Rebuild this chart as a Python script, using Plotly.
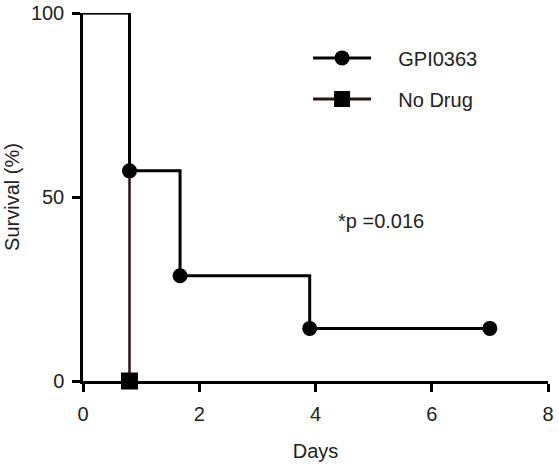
import plotly.graph_objects as go

# Kaplan-Meier steps (days, survival %)
gpi_days = [0, 0.8, 0.8, 1.67, 1.67, 3.9, 3.9, 7.0]
gpi_surv = [100, 100, 57.1, 57.1, 28.6, 28.6, 14.3, 14.3]
gpi_event_days = [0.8, 1.67, 3.9, 7.0]
gpi_event_surv = [57.1, 28.6, 14.3, 14.3]

nodrug_days = [0, 0.8, 0.8]
nodrug_surv = [100, 100, 0]
nodrug_event_days = [0.8]
nodrug_event_surv = [0]

x_ticks = [0, 2, 4, 6, 8]
y_ticks = [0, 50, 100]

font = "Liberation Sans, Arial, sans-serif"
txt = "#222"
pad = "\u00a0" * 4  # gap between legend symbol and label

fig = go.Figure()

fig.add_trace(go.Scatter(
    x=nodrug_days, y=nodrug_surv, mode="lines",
    line=dict(color="#2b1414", width=2.5), showlegend=False,
    hoverinfo="skip", cliponaxis=False))
fig.add_trace(go.Scatter(
    x=gpi_days, y=gpi_surv, mode="lines",
    line=dict(color="black", width=3), showlegend=False,
    hoverinfo="skip", cliponaxis=False))
fig.add_trace(go.Scatter(
    x=gpi_event_days, y=gpi_event_surv, mode="markers",
    marker=dict(symbol="circle", size=15, color="black"),
    showlegend=False, cliponaxis=False))
fig.add_trace(go.Scatter(
    x=nodrug_event_days, y=nodrug_event_surv, mode="markers",
    marker=dict(symbol="square", size=17, color="black"),
    showlegend=False, cliponaxis=False))

# legend entries
fig.add_trace(go.Scatter(
    x=[None], y=[None], mode="lines+markers", name=pad + "GPI0363", legendgroup="a",
    line=dict(color="black", width=3),
    marker=dict(symbol="circle", size=15, color="black")))
fig.add_trace(go.Scatter(
    x=[None], y=[None], mode="lines+markers", name=pad + "No Drug", legendgroup="b",
    line=dict(color="#2b1414", width=3),
    marker=dict(symbol="square", size=17, color="black")))

fig.add_annotation(
    x=5.13, y=43.5, xref="x", yref="y", text="*p =0.016", showarrow=False,
    font=dict(family=font, size=20, color=txt))

axis_style = dict(
    ticks="outside", ticklen=8, tickwidth=2.5, tickcolor="black",
    showline=True, linecolor="black", linewidth=2.5,
    showgrid=False, zeroline=False, automargin=False,
    ticklabeloverflow="allow",
    tickfont=dict(family=font, size=20, color=txt))

fig.update_xaxes(
    range=[0, 8], tickvals=x_ticks, ticklabelstandoff=5,
    title=dict(text="Days", font=dict(family=font, size=20, color=txt), standoff=21),
    **axis_style)
fig.update_yaxes(
    range=[0, 100], tickvals=y_ticks, ticklabelstandoff=4,
    title=dict(text="Survival (%)", font=dict(family=font, size=20, color=txt), standoff=6),
    **axis_style)

fig.update_layout(
    width=559, height=467,
    margin=dict(l=83, r=11, t=13, b=86),
    plot_bgcolor="white", paper_bgcolor="white",
    legend=dict(x=0.484, y=0.931, xanchor="left", yanchor="top",
                font=dict(family=font, size=20, color=txt),
                tracegroupgap=12, itemwidth=58, bgcolor="rgba(0,0,0,0)"),
)

# drop the browser's default body margin so the figure sits at the page corner
fig.write_html("out.html", config={"displayModeBar": False},
               post_script="document.body.style.margin = '0';")
